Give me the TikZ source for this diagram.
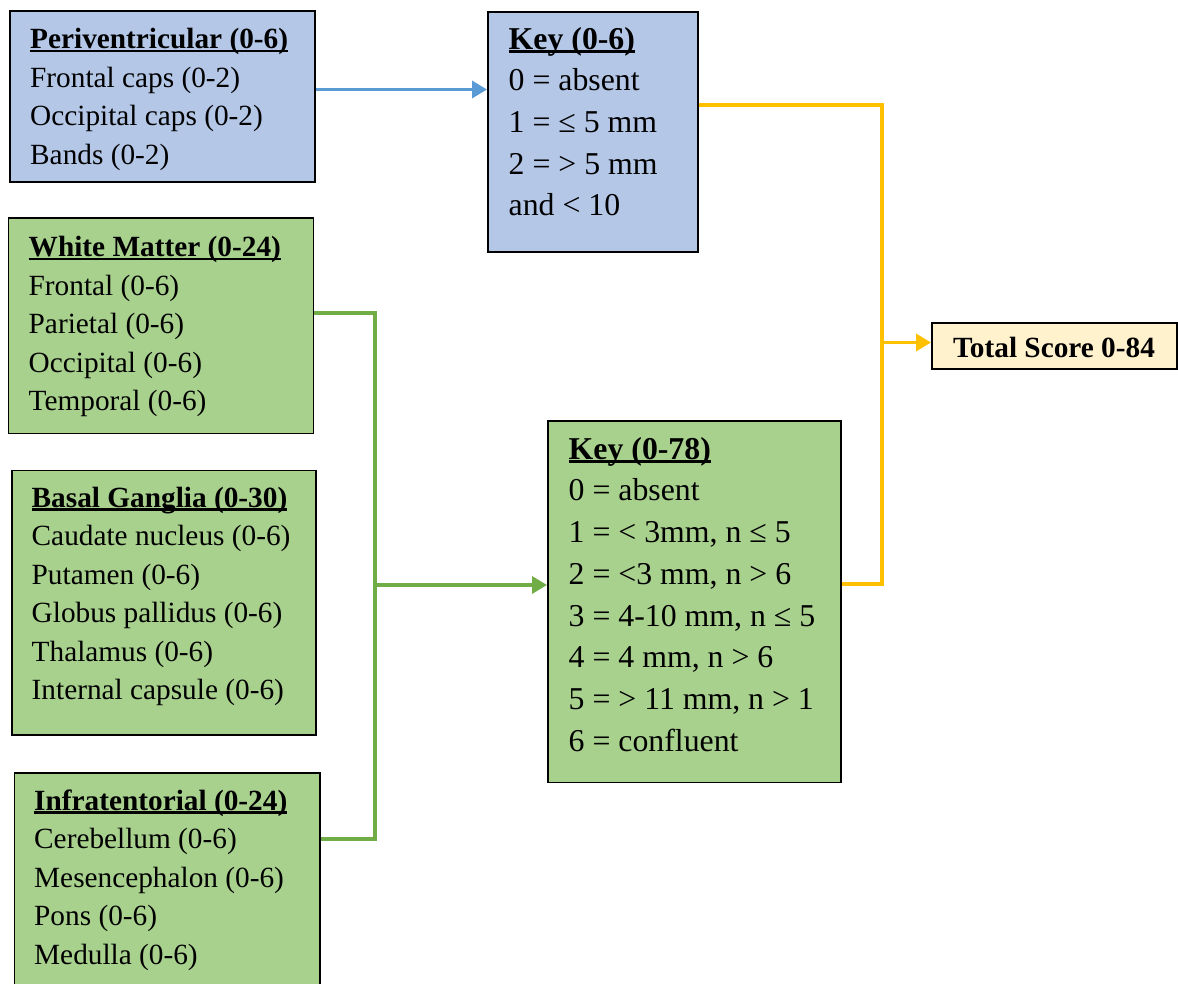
\documentclass[tikz,border=0pt]{standalone}
\usepackage{fontspec}
\setmainfont{Liberation Serif}
\usetikzlibrary{arrows.meta}
\definecolor{boxblue}{HTML}{B4C7E7}
\definecolor{boxgreen}{HTML}{A9D18E}
\definecolor{boxyellow}{HTML}{FFF2CC}
\definecolor{lineblue}{HTML}{5B9BD5}
\definecolor{linegreen}{HTML}{70AD47}
\definecolor{lineyellow}{HTML}{FFC000}
\newcommand{\tul}[1]{\setbox0=\hbox{#1}\rlap{\rule[-0.115em]{\wd0}{0.075em}}\box0}
\newcommand{\fst}{\rule{0pt}{30pt}}
\tikzset{
  box/.style={draw=black, line width=1.8pt, inner sep=0pt, anchor=north west},
  bluebox/.style={box, fill=boxblue},
  greenbox/.style={box, fill=boxgreen},
  yellowbox/.style={box, fill=boxyellow},
  txt/.style={anchor=north west, inner sep=0pt, align=left, font=\fontsize{29.3}{38.5}\selectfont},
  keytxt/.style={txt, font=\fontsize{31.8}{41.7}\selectfont},
  conn/.style={line width=3.5pt},
  tip/.style={-{Triangle[length=15pt,width=17pt]}}
}
\begin{document}
\begin{tikzpicture}[x=1pt,y=-1pt]
\useasboundingbox (0,0) rectangle (1178,984);
% boxes
\node[bluebox, minimum width=305, minimum height=171] (peri) at (9,10) {};
\node[bluebox, minimum width=210, minimum height=240] (key6) at (487,11) {};
\node[yellowbox, minimum width=245, minimum height=46] (total) at (931,322) {};
\node[greenbox, minimum width=305, minimum height=215] (wm) at (7.5,217.5) {};
\node[greenbox, minimum width=304, minimum height=264.5] (bg) at (11,469.5) {};
\node[greenbox, minimum width=305.5, minimum height=240] (inf) at (13.5,772) {};
\node[greenbox, minimum width=293, minimum height=361.5] (key78) at (547,420) {};
% texts
\node[txt] (perit) at (30,18.5) {\fst\textbf{\tul{Periventricular (0-6)}}\\Frontal caps (0-2)\\Occipital caps (0-2)\\Bands (0-2)};
\node[keytxt] (key6t) at (508.5,19) {\fst\textbf{\tul{Key (0-6)}}\\0 = absent\\1 = ≤ 5 mm\\2 = > 5 mm\\and < 10};
\node[txt] (wmt) at (28.5,226.5) {\fst\textbf{\tul{White Matter (0-24)}}\\Frontal (0-6)\\Parietal (0-6)\\Occipital (0-6)\\Temporal (0-6)};
\node[txt] (bgt) at (31.5,477) {\fst\textbf{\tul{Basal Ganglia (0-30)}}\\Caudate nucleus (0-6)\\Putamen (0-6)\\Globus pallidus (0-6)\\Thalamus (0-6)\\Internal capsule (0-6)};
\node[txt] (inft) at (34,780) {\fst\textbf{\tul{Infratentorial (0-24)}}\\Cerebellum (0-6)\\Mesencephalon (0-6)\\Pons (0-6)\\Medulla (0-6)};
\node[keytxt] (key78t) at (568.5,429) {\fst\textbf{\tul{Key (0-78)}}\\0 = absent\\1 = < 3mm, n ≤ 5\\2 = <3 mm, n > 6\\3 = 4-10 mm, n ≤ 5\\4 = 4 mm, n > 6\\5 = > 11 mm, n > 1\\6 = confluent};
\node[anchor=base, inner sep=0pt, font=\fontsize{29.3}{35}\selectfont\bfseries] (totalt) at (1054,357) {Total Score 0-84};
% junction coordinates
\coordinate (yt) at (882,105);
\coordinate (yb) at (882,584);
\coordinate (ym) at (882,342.5);
\coordinate (gt) at (375,313);
\coordinate (gb) at (375,839);
\coordinate (gm) at (375,585);
% connectors
\draw[conn, lineblue, tip] (peri.east |- 0,89.5) -- (key6.west |- 0,89.5);
\draw[conn, lineyellow] (key6.east |- yt) -- (yt) -- (yb) -- (key78.east |- yb);
\draw[conn, lineyellow, tip] (ym) -- (total.west |- ym);
\draw[conn, linegreen] (wm.east |- gt) -- (gt) -- (gb) -- (inf.east |- gb);
\draw[conn, linegreen, tip] (gm) -- (key78.west |- gm);
\end{tikzpicture}
\end{document}
